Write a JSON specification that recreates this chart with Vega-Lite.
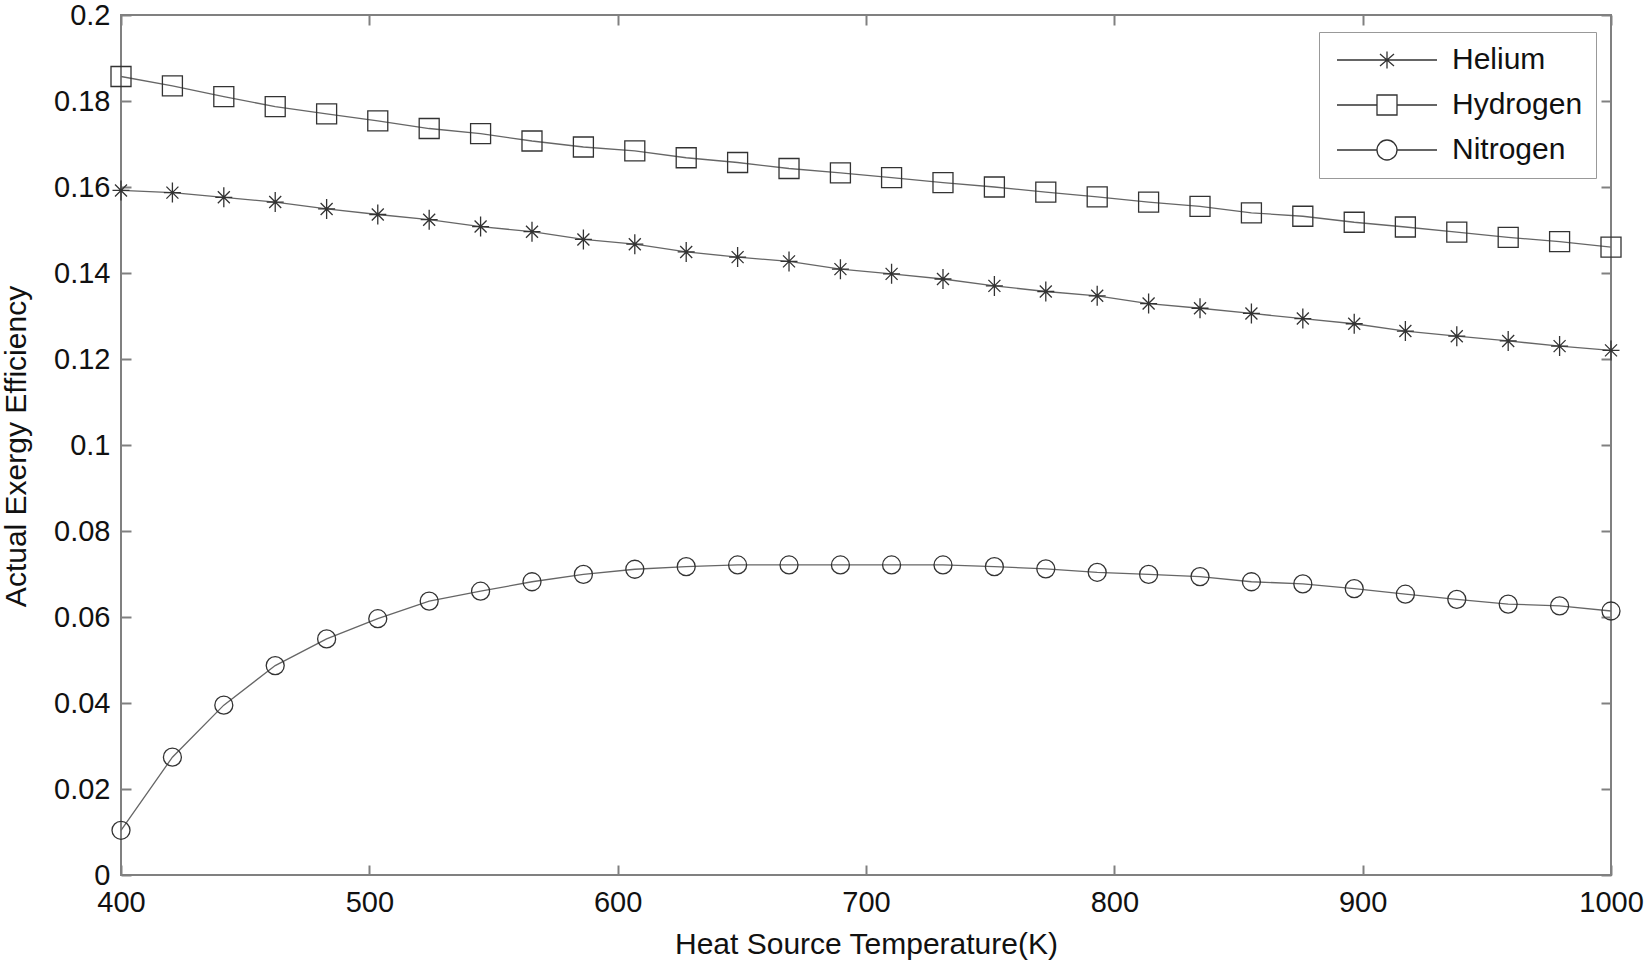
{
  "$schema": "https://vega.github.io/schema/vega-lite/v6.json",
  "width": 1490,
  "height": 860,
  "autosize": {"type": "none"},
  "padding": {"left": 121, "top": 15, "right": 35, "bottom": 85},
  "background": "white",
  "config": {
    "font": "Liberation Sans",
    "view": {"stroke": "#808080", "strokeWidth": 2},
    "axis": {
      "grid": false, "domain": false,
      "tickColor": "#808080", "tickSize": -10, "tickWidth": 2,
      "labelFont": "Liberation Sans", "labelFontSize": 29, "labelColor": "#111",
      "labelFlush": false, "labelOverlap": false,
      "titleFont": "Liberation Sans", "titleFontSize": 30, "titleFontWeight": "normal", "titleColor": "#111"
    },
    "legend": {
      "orient": "none", "legendX": 1198, "legendY": 17,
      "padding": 13, "strokeColor": "#999", "fillColor": "white", "cornerRadius": 0,
      "labelFont": "Liberation Sans", "labelFontSize": 30, "labelColor": "#111",
      "labelOffset": 90, "rowPadding": 15,
      "symbolSize": 400, "symbolStrokeWidth": 1.3, "symbolStrokeColor": "#333", "symbolFillColor": "transparent"
    }
  },
  "data": {"values": [
    {"T": 400, "gas": "Helium", "eff": 0.1592},
    {"T": 420.7, "gas": "Helium", "eff": 0.1587},
    {"T": 441.4, "gas": "Helium", "eff": 0.1576},
    {"T": 462.1, "gas": "Helium", "eff": 0.1565},
    {"T": 482.8, "gas": "Helium", "eff": 0.1549},
    {"T": 503.4, "gas": "Helium", "eff": 0.1536},
    {"T": 524.1, "gas": "Helium", "eff": 0.1524},
    {"T": 544.8, "gas": "Helium", "eff": 0.1508},
    {"T": 565.5, "gas": "Helium", "eff": 0.1496},
    {"T": 586.2, "gas": "Helium", "eff": 0.1478},
    {"T": 606.9, "gas": "Helium", "eff": 0.1467},
    {"T": 627.6, "gas": "Helium", "eff": 0.1449},
    {"T": 648.3, "gas": "Helium", "eff": 0.1437},
    {"T": 669.0, "gas": "Helium", "eff": 0.1427},
    {"T": 689.7, "gas": "Helium", "eff": 0.1409},
    {"T": 710.3, "gas": "Helium", "eff": 0.1398},
    {"T": 731.0, "gas": "Helium", "eff": 0.1386},
    {"T": 751.7, "gas": "Helium", "eff": 0.1370},
    {"T": 772.4, "gas": "Helium", "eff": 0.1357},
    {"T": 793.1, "gas": "Helium", "eff": 0.1347},
    {"T": 813.8, "gas": "Helium", "eff": 0.1329},
    {"T": 834.5, "gas": "Helium", "eff": 0.1318},
    {"T": 855.2, "gas": "Helium", "eff": 0.1306},
    {"T": 875.9, "gas": "Helium", "eff": 0.1294},
    {"T": 896.6, "gas": "Helium", "eff": 0.1282},
    {"T": 917.2, "gas": "Helium", "eff": 0.1265},
    {"T": 937.9, "gas": "Helium", "eff": 0.1253},
    {"T": 958.6, "gas": "Helium", "eff": 0.1242},
    {"T": 979.3, "gas": "Helium", "eff": 0.1230},
    {"T": 1000, "gas": "Helium", "eff": 0.1220},
    {"T": 400, "gas": "Hydrogen", "eff": 0.1857},
    {"T": 420.7, "gas": "Hydrogen", "eff": 0.1835},
    {"T": 441.4, "gas": "Hydrogen", "eff": 0.1810},
    {"T": 462.1, "gas": "Hydrogen", "eff": 0.1787},
    {"T": 482.8, "gas": "Hydrogen", "eff": 0.1770},
    {"T": 503.4, "gas": "Hydrogen", "eff": 0.1754},
    {"T": 524.1, "gas": "Hydrogen", "eff": 0.1736},
    {"T": 544.8, "gas": "Hydrogen", "eff": 0.1724},
    {"T": 565.5, "gas": "Hydrogen", "eff": 0.1707},
    {"T": 586.2, "gas": "Hydrogen", "eff": 0.1693},
    {"T": 606.9, "gas": "Hydrogen", "eff": 0.1684},
    {"T": 627.6, "gas": "Hydrogen", "eff": 0.1668},
    {"T": 648.3, "gas": "Hydrogen", "eff": 0.1657},
    {"T": 669.0, "gas": "Hydrogen", "eff": 0.1643},
    {"T": 689.7, "gas": "Hydrogen", "eff": 0.1633},
    {"T": 710.3, "gas": "Hydrogen", "eff": 0.1622},
    {"T": 731.0, "gas": "Hydrogen", "eff": 0.1610},
    {"T": 751.7, "gas": "Hydrogen", "eff": 0.1600},
    {"T": 772.4, "gas": "Hydrogen", "eff": 0.1588},
    {"T": 793.1, "gas": "Hydrogen", "eff": 0.1577},
    {"T": 813.8, "gas": "Hydrogen", "eff": 0.1565},
    {"T": 834.5, "gas": "Hydrogen", "eff": 0.1555},
    {"T": 855.2, "gas": "Hydrogen", "eff": 0.1540},
    {"T": 875.9, "gas": "Hydrogen", "eff": 0.1532},
    {"T": 896.6, "gas": "Hydrogen", "eff": 0.1518},
    {"T": 917.2, "gas": "Hydrogen", "eff": 0.1507},
    {"T": 937.9, "gas": "Hydrogen", "eff": 0.1495},
    {"T": 958.6, "gas": "Hydrogen", "eff": 0.1483},
    {"T": 979.3, "gas": "Hydrogen", "eff": 0.1473},
    {"T": 1000, "gas": "Hydrogen", "eff": 0.1460},
    {"T": 400, "gas": "Nitrogen", "eff": 0.0104},
    {"T": 420.7, "gas": "Nitrogen", "eff": 0.0274},
    {"T": 441.4, "gas": "Nitrogen", "eff": 0.0395},
    {"T": 462.1, "gas": "Nitrogen", "eff": 0.0487},
    {"T": 482.8, "gas": "Nitrogen", "eff": 0.0549},
    {"T": 503.4, "gas": "Nitrogen", "eff": 0.0596},
    {"T": 524.1, "gas": "Nitrogen", "eff": 0.0637},
    {"T": 544.8, "gas": "Nitrogen", "eff": 0.0660},
    {"T": 565.5, "gas": "Nitrogen", "eff": 0.0682},
    {"T": 586.2, "gas": "Nitrogen", "eff": 0.0699},
    {"T": 606.9, "gas": "Nitrogen", "eff": 0.0711},
    {"T": 627.6, "gas": "Nitrogen", "eff": 0.0717},
    {"T": 648.3, "gas": "Nitrogen", "eff": 0.0721},
    {"T": 669.0, "gas": "Nitrogen", "eff": 0.0721},
    {"T": 689.7, "gas": "Nitrogen", "eff": 0.0721},
    {"T": 710.3, "gas": "Nitrogen", "eff": 0.0721},
    {"T": 731.0, "gas": "Nitrogen", "eff": 0.0721},
    {"T": 751.7, "gas": "Nitrogen", "eff": 0.0717},
    {"T": 772.4, "gas": "Nitrogen", "eff": 0.0712},
    {"T": 793.1, "gas": "Nitrogen", "eff": 0.0704},
    {"T": 813.8, "gas": "Nitrogen", "eff": 0.0699},
    {"T": 834.5, "gas": "Nitrogen", "eff": 0.0694},
    {"T": 855.2, "gas": "Nitrogen", "eff": 0.0682},
    {"T": 875.9, "gas": "Nitrogen", "eff": 0.0677},
    {"T": 896.6, "gas": "Nitrogen", "eff": 0.0666},
    {"T": 917.2, "gas": "Nitrogen", "eff": 0.0653},
    {"T": 937.9, "gas": "Nitrogen", "eff": 0.0641},
    {"T": 958.6, "gas": "Nitrogen", "eff": 0.0630},
    {"T": 979.3, "gas": "Nitrogen", "eff": 0.0626},
    {"T": 1000, "gas": "Nitrogen", "eff": 0.0614}
  ]},
  "layer": [
    {
      "mark": {"type": "line", "color": "#666", "strokeWidth": 1.3},
      "encoding": {
        "x": {
          "field": "T", "type": "quantitative",
          "scale": {"domain": [400, 1000], "nice": false, "zero": false},
          "axis": {
            "orient": "bottom", "values": [400, 500, 600, 700, 800, 900, 1000], "format": "d",
            "labelPadding": 23, "labelBaseline": "top",
            "title": "Heat Source Temperature(K)", "titleY": 54, "titleBaseline": "top"
          }
        },
        "y": {
          "field": "eff", "type": "quantitative",
          "scale": {"domain": [0, 0.2], "nice": false},
          "axis": {
            "orient": "left", "values": [0, 0.02, 0.04, 0.06, 0.08, 0.1, 0.12, 0.14, 0.16, 0.18, 0.2], "format": "~g",
            "labelPadding": 21,
            "title": "Actual Exergy Efficiency", "titleX": -120, "titleY": 431, "titleAngle": -90,
            "titleBaseline": "top", "titleAlign": "center"
          }
        },
        "detail": {"field": "gas", "type": "nominal"}
      }
    },
    {
      "mark": {"type": "point", "filled": false, "color": "#333", "strokeWidth": 1.3, "size": 400, "opacity": 1},
      "encoding": {
        "x": {
          "field": "T", "type": "quantitative",
          "axis": {"orient": "top", "labels": false, "title": null, "values": [400, 500, 600, 700, 800, 900, 1000]}
        },
        "y": {
          "field": "eff", "type": "quantitative",
          "axis": {"orient": "right", "labels": false, "title": null, "values": [0, 0.02, 0.04, 0.06, 0.08, 0.1, 0.12, 0.14, 0.16, 0.18, 0.2]}
        },
        "shape": {
          "field": "gas", "type": "nominal",
          "scale": {
            "domain": ["Helium", "Hydrogen", "Nitrogen"],
            "range": [
              "M0,-1V1M-0.85,0H0.85M-0.6,-0.6L0.6,0.6M-0.6,0.6L0.6,-0.6",
              "M-1,-1H1V1H-1Z",
              "M-0.9,0A0.9,0.9 0 1,0 0.9,0A0.9,0.9 0 1,0 -0.9,0"
            ]
          },
          "legend": null
        }
      }
    },
    {
      "transform": [{"filter": "false"}],
      "mark": {"type": "point", "filled": false, "color": "#333", "strokeWidth": 1.3, "size": 400, "opacity": 1},
      "encoding": {
        "x": {"field": "T", "type": "quantitative", "axis": null},
        "y": {"field": "eff", "type": "quantitative", "axis": null},
        "shape": {
          "field": "gas", "type": "nominal",
          "scale": {
            "domain": ["Helium", "Hydrogen", "Nitrogen"],
            "range": [
              "M-1,0H9M4,-0.85V0.85M3.3,-0.6L4.7,0.6M3.3,0.6L4.7,-0.6",
              "M-1,0H3M5,0H9M3,-1H5V1H3Z",
              "M-1,0H3M5,0H9M3,0A1,1 0 1,0 5,0A1,1 0 1,0 3,0"
            ]
          },
          "legend": {"title": null}
        }
      }
    }
  ],
  "resolve": {
    "scale": {"shape": "independent"},
    "axis": {"x": "independent", "y": "independent"}
  }
}
